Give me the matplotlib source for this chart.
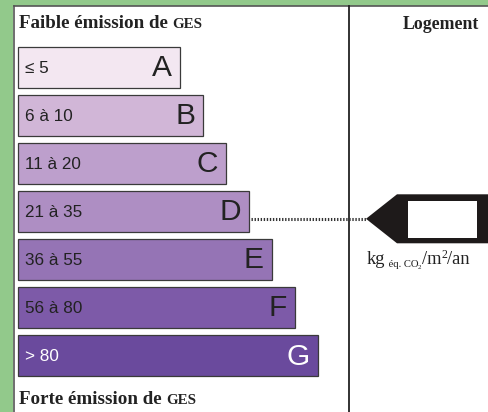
import matplotlib
matplotlib.use("Agg")
import matplotlib.pyplot as plt
from matplotlib.patches import Polygon, Rectangle

# ---- data ----
letters = ["A", "B", "C", "D", "E", "F", "G"]
ranges = ["≤ 5", "6 à 10", "11 à 20", "21 à 35", "36 à 55", "56 à 80", "> 80"]
colors = ["#f3e7f1", "#d1b6d7", "#bd9fcc", "#ae8ec3", "#9574b5", "#7d5aa8", "#6a4a9d"]
text_colors = ["#222222"] * 6 + ["#ffffff"]
current_class = "D"
header_top = "Faible émission de "
header_bottom = "Forte émission de "
header_sc = "GES"
right_title = "Logement"

W, H = 489, 412
fig = plt.figure(figsize=(W / 100, H / 100), dpi=100)
ax = fig.add_axes([0, 0, 1, 1])
ax.set_xlim(0, W)
ax.set_ylim(H, 0)
ax.axis("off")
renderer = fig.canvas.get_renderer()

green = "#92c98b"
serif = "Liberation Serif"
sans = "Liberation Sans"


def runs(x, y, parts, **kw):
    """Place text runs one after another on a common baseline (pixel coords)."""
    for txt, size, dy, weight in parts:
        t = ax.text(x, y + dy, txt, fontsize=size, family=serif, weight=weight,
                    color="#222222", va="baseline", ha="left", zorder=4, **kw)
        bb = t.get_window_extent(renderer=renderer)
        x += bb.width  # 1 data unit == 1 pixel
    return x


# frame
ax.add_patch(Rectangle((0, 0), W, H, facecolor=green, edgecolor="none", zorder=0))
ax.add_patch(Rectangle((13, 5.5), W, H, facecolor="white", edgecolor="none", zorder=1))
ax.plot([13.5, 13.5], [5.5, H], color="#555555", lw=1.2, zorder=2)
ax.plot([13.5, W], [5.8, 5.8], color="#555555", lw=1.2, zorder=2)
ax.plot([348.5, 348.5], [5.5, H], color="#222222", lw=1.3, zorder=2)

# bars
idx = list(range(len(letters)))
centers = [67 + 48.1 * i for i in idx]
widths = [162 + 23 * i for i in idx]
ax.barh(centers, widths, left=18, height=41, color=colors,
        edgecolor="#3a3a3a", linewidth=0.9, zorder=3)
for i in idx:
    ax.text(25, centers[i] + 1, ranges[i], fontsize=12.3, family=sans,
            color=text_colors[i], va="center", ha="left", zorder=4)
    ax.text(18 + widths[i] - 8, centers[i] + 1, letters[i], fontsize=21.5,
            family=sans, color=text_colors[i], va="center", ha="right", zorder=4)

# headers
runs(19, 28, [(header_top, 13.7, 0, "bold"), (header_sc, 10.8, 0, "bold")])
runs(19, 404, [(header_bottom, 13.7, 0, "bold"), (header_sc, 10.8, 0, "bold")])
ax.text(441, 29, right_title, fontsize=12.8, family=serif, weight="bold",
        color="#222222", va="baseline", ha="center", zorder=4)

# dotted connector and arrow
ci = letters.index(current_class)
ylev = centers[ci] + 7.5
ax.plot([18 + widths[ci] + 2, 367], [ylev, ylev], color="#333333", lw=2.2,
        dashes=(0.45, 0.55), zorder=3)
ax.add_patch(Polygon([(366, ylev), (397, ylev - 24.5), (W, ylev - 24.5),
                      (W, ylev + 24.5), (397, ylev + 24.5)], closed=True,
                     facecolor="#1e1a1a", edgecolor="none", zorder=4))
ax.add_patch(Rectangle((408, ylev - 18), 69, 37, facecolor="white",
                       edgecolor="none", zorder=5))

# unit
runs(367, 264, [("kg", 13.3, 0, "normal"), (" éq. CO", 7.7, 3, "normal"),
                ("2", 5, 5, "normal"), ("/m", 13.3, 0, "normal"),
                ("2", 8.5, -6, "normal"), ("/an", 13.3, 0, "normal")])

fig.savefig("out.png", dpi=100)
